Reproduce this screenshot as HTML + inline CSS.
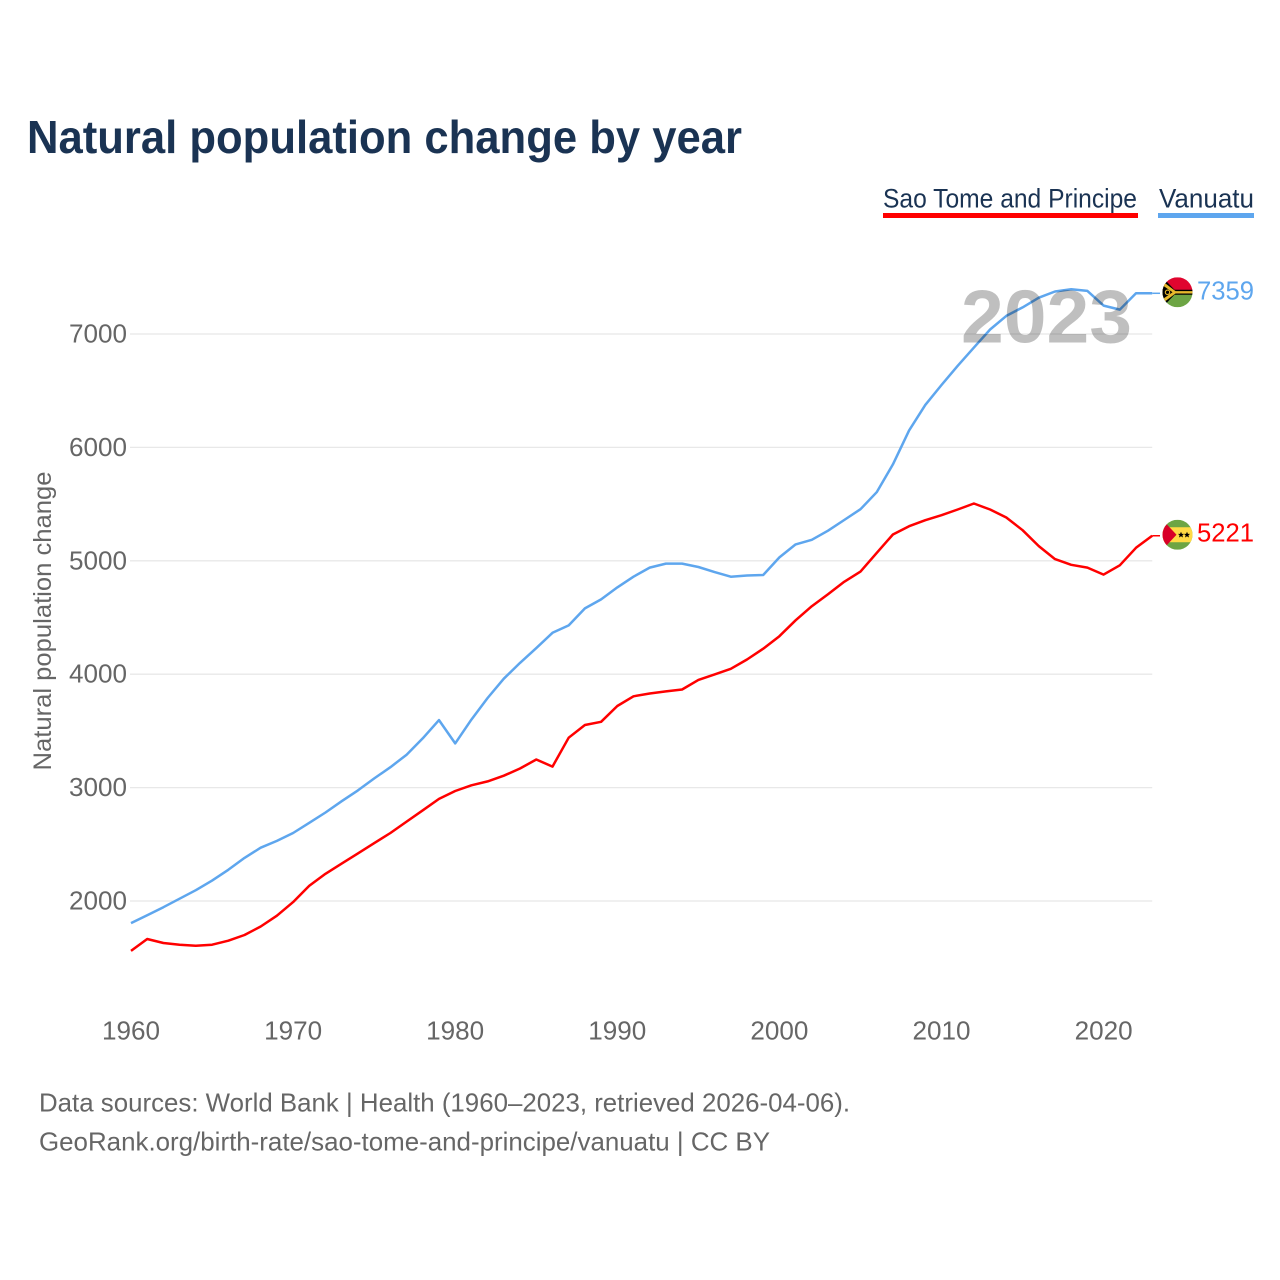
<!DOCTYPE html>
<html lang="en">
<head>
<meta charset="utf-8">
<title>Natural population change by year</title>
<style>
html,body{margin:0;padding:0;background:#fff;}
svg{display:block;font-family:"Liberation Sans",sans-serif;}
</style>
</head>
<body>
<svg id="chart" xmlns="http://www.w3.org/2000/svg" width="1280" height="1280" viewBox="0 0 1280 1280">
  <defs>
    <clipPath id="flag-clip"><circle cx="0" cy="0" r="15"/></clipPath>
  </defs>
  <rect width="1280" height="1280" fill="#fff"/>
  <text x="27" y="153" font-size="46" font-weight="700" fill="#1a3353" textLength="715" lengthAdjust="spacingAndGlyphs">Natural population change by year</text>

  <g>
    <g>
      <text x="883" y="207.5" font-size="27" fill="#1a3353" textLength="254" lengthAdjust="spacingAndGlyphs">Sao Tome and Principe</text>
      <rect x="883" y="213" width="255" height="5" fill="#ff0000"/>
    </g>
    <g>
      <text x="1159" y="207.5" font-size="27" fill="#1a3353" textLength="95" lengthAdjust="spacingAndGlyphs">Vanuatu</text>
      <rect x="1158" y="213" width="96" height="5" fill="#5ea6ee"/>
    </g>
  </g>

  <g id="grid"></g>
  <g id="y-ticks"></g>
  <g id="x-ticks"></g>
  <text transform="translate(51 621) rotate(-90)" text-anchor="middle" font-size="25" fill="#666" textLength="299" lengthAdjust="spacingAndGlyphs">Natural population change</text>

  <g id="series"></g>
  <text x="961" y="342.5" font-size="75" font-weight="700" fill="#000" fill-opacity="0.25" textLength="171" lengthAdjust="spacingAndGlyphs">2023</text>

  <g id="flag-vanuatu">
    <g clip-path="url(#flag-clip)">
      <rect x="-15" y="-15" width="30" height="15" fill="#e0052f"/>
      <rect x="-15" y="0" width="30" height="15" fill="#6da544"/>
      <polygon points="-15,-15 -3,-2.5 15,-2.5 15,2.5 -3,2.5 -15,15" fill="#000"/>
      <polygon points="-15,-11 -2,-1.2 15,-1.2 15,1.2 -2,1.2 -15,11" fill="#e8b92c"/>
      <polygon points="-15,-7 -5,0 -15,7" fill="#000"/>
      <circle cx="-10" cy="0" r="2.2" fill="none" stroke="#e8b92c" stroke-width="1.1"/>
    </g>
  </g>
  <g id="flag-sao-tome">
    <g clip-path="url(#flag-clip)">
      <rect x="-15" y="-15" width="30" height="30" fill="#6da544"/>
      <rect x="-15" y="-7.5" width="30" height="15" fill="#ffda44"/>
      <polygon points="-15,-15 -1,0 -15,15" fill="#d80027"/>
      <polygon points="3.5,-3 4.4,-0.9 6.6,-0.9 4.9,0.5 5.5,2.7 3.5,1.5 1.5,2.7 2.1,0.5 0.4,-0.9 2.6,-0.9" fill="#000"/>
      <polygon points="9.5,-3 10.4,-0.9 12.6,-0.9 10.9,0.5 11.5,2.7 9.5,1.5 7.5,2.7 8.1,0.5 6.4,-0.9 8.6,-0.9" fill="#000"/>
    </g>
  </g>
  <g id="end-labels"></g>

  <g>
    <text x="39" y="1111.5" font-size="26" fill="#666" textLength="811" lengthAdjust="spacingAndGlyphs">Data sources: World Bank | Health (1960–2023, retrieved 2026-04-06).</text>
    <text x="39" y="1150.5" font-size="26" fill="#666" textLength="731" lengthAdjust="spacingAndGlyphs">GeoRank.org/birth-rate/sao-tome-and-principe/vanuatu | CC BY</text>
  </g>
</svg>
<script>
const firstYear = 1960;
const yTickValues = [2000, 3000, 4000, 5000, 6000, 7000];
const xTickValues = [1960, 1970, 1980, 1990, 2000, 2010, 2020];
const vanuatuValues = [1805,1875,1945,2020,2095,2180,2275,2380,2470,2530,2600,2690,2780,2880,2975,3080,3180,3290,3435,3595,3390,3600,3790,3960,4100,4230,4365,4430,4580,4660,4765,4860,4940,4975,4975,4945,4900,4860,4870,4875,5030,5145,5185,5265,5360,5455,5605,5850,6150,6375,6550,6720,6880,7040,7160,7235,7320,7375,7395,7380,7250,7215,7359,7359];
const saoTomeValues = [1560,1665,1630,1615,1605,1615,1650,1700,1775,1870,1990,2135,2240,2330,2420,2510,2600,2700,2800,2900,2970,3020,3055,3105,3168,3248,3185,3440,3552,3580,3720,3805,3830,3848,3865,3950,3998,4048,4130,4225,4335,4475,4600,4705,4815,4905,5070,5232,5305,5358,5402,5452,5505,5452,5382,5270,5130,5015,4965,4940,4878,4960,5115,5221];

const NS = 'http://www.w3.org/2000/svg';
const xScale = function (year) { return 131 + (year - firstYear) * 16.21; };
const yScale = function (value) { return 901 - (value - 2000) * 0.1134; };

function make(tag, parent) {
  const el = document.createElementNS(NS, tag);
  parent.appendChild(el);
  return el;
}
function set(el, attrs) {
  Object.keys(attrs).forEach(function (k) { el.setAttribute(k, attrs[k]); });
}

const lastYear = firstYear + vanuatuValues.length - 1;
const gridGroup = document.getElementById('grid');
const yTickGroup = document.getElementById('y-ticks');
const xTickGroup = document.getElementById('x-ticks');
const seriesGroup = document.getElementById('series');
const endLabelGroup = document.getElementById('end-labels');

yTickValues.forEach(function (v) {
  const line = make('line', gridGroup);
  
  
  set(line, { x1: 130, x2: xScale(lastYear), y1: yScale(v), y2: yScale(v), stroke: '#e8e8e8', 'stroke-width': 1.3 });

  const label = make('text', yTickGroup);
  
  
  set(label, { x: 69, y: yScale(v) + 8.5, 'font-size': 25.5, fill: '#666', textLength: 58, lengthAdjust: 'spacingAndGlyphs' });
  label.textContent = String(v);
});

xTickValues.forEach(function (year) {
  const label = make('text', xTickGroup);
  
  
  set(label, { x: xScale(year) - 29, y: 1039.5, 'font-size': 25.5, fill: '#666', textLength: 58, lengthAdjust: 'spacingAndGlyphs' });
  label.textContent = String(year);
});

function drawSeries(values, color, name) {
  const pts = values.map(function (v, i) {
    return xScale(firstYear + i).toFixed(1) + ',' + yScale(v).toFixed(1);
  }).join(' ');
  const line = make('polyline', seriesGroup);
  
  
  set(line, { points: pts, fill: 'none', stroke: color, 'stroke-width': 2.5, 'stroke-linejoin': 'round' });

  const lastValue = values[values.length - 1];
  const ey = yScale(lastValue);
  const connector = make('line', seriesGroup);
  
  
  set(connector, { x1: xScale(lastYear), x2: 1160, y1: ey, y2: ey, stroke: color, 'stroke-width': 1.5 });

  const flag = document.getElementById('flag-' + name);
  flag.setAttribute('transform', 'translate(1177.5 ' + (ey - 1) + ')');

  const label = make('text', endLabelGroup);
  
  
  set(label, { x: 1197, y: ey + 6, 'font-size': 25.5, fill: color, textLength: 57, lengthAdjust: 'spacingAndGlyphs' });
  label.textContent = String(lastValue);
}

drawSeries(saoTomeValues, '#ff0000', 'sao-tome');
drawSeries(vanuatuValues, '#5ea6ee', 'vanuatu');
</script>
</body>
</html>
